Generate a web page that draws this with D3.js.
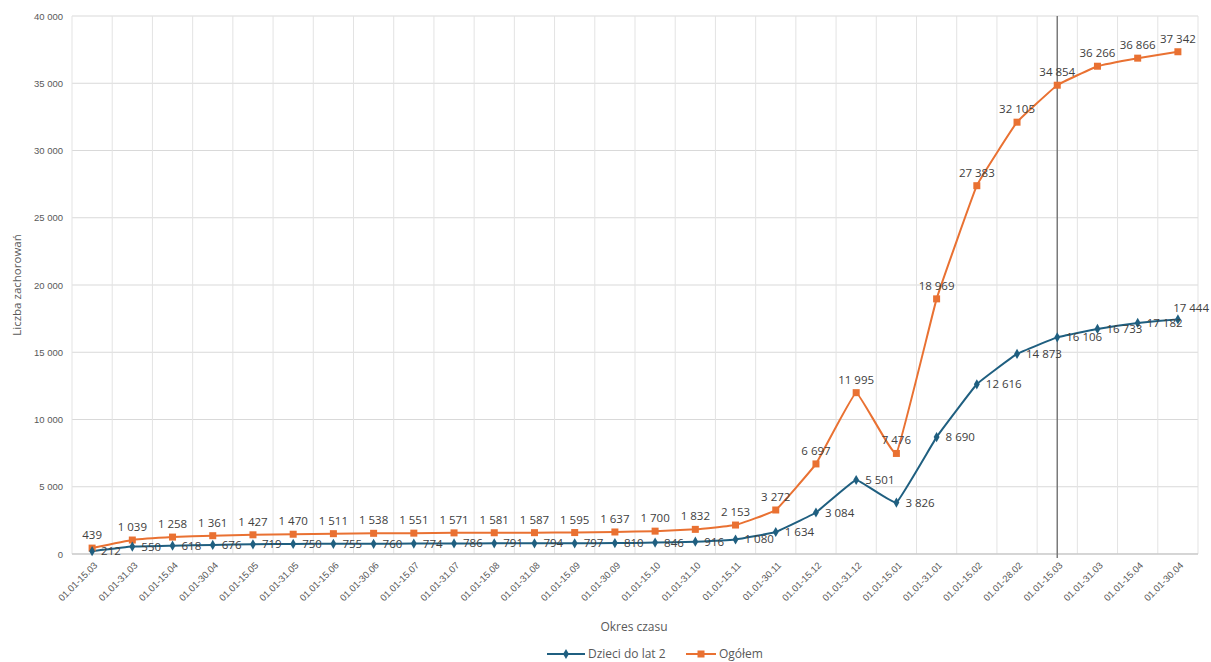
<!DOCTYPE html>
<html>
<head>
<meta charset="utf-8">
<script src="https://cdn.jsdelivr.net/npm/d3@7"></script>
<style>
  body { margin: 0; background: #fff; }
  svg { font-family: 'Open Sans', 'Noto Sans', sans-serif; }
</style>
</head>
<body>
<svg id="chart" width="1211" height="662"></svg>
<script>
// data ------------------------------------------------
const periods = [
  '01.01-15.03', '01.01-31.03', '01.01-15.04', '01.01-30.04', '01.01-15.05', '01.01-31.05',
  '01.01-15.06', '01.01-30.06', '01.01-15.07', '01.01-31.07', '01.01-15.08', '01.01-31.08',
  '01.01-15.09', '01.01-30.09', '01.01-15.10', '01.01-31.10', '01.01-15.11', '01.01-30.11',
  '01.01-15.12', '01.01-31.12', '01.01-15.01', '01.01-31.01', '01.01-15.02', '01.01-28.02',
  '01.01-15.03', '01.01-31.03', '01.01-15.04', '01.01-30.04'
];
const kids = [
  212, 550, 618, 676, 719, 750, 755, 760, 774, 786, 791, 794, 797, 810,
  846, 916, 1080, 1634, 3084, 5501, 3826, 8690, 12616, 14873, 16106, 16733, 17182, 17444
];
const total = [
  439, 1039, 1258, 1361, 1427, 1470, 1511, 1538, 1551, 1571, 1581, 1587, 1595, 1637,
  1700, 1832, 2153, 3272, 6697, 11995, 7476, 18969, 27383, 32105, 34854, 36266, 36866, 37342
];
const yTicks = [0, 5000, 10000, 15000, 20000, 25000, 30000, 35000, 40000];
const markerIndex = 24; // vertical reference line
const seriesNames = ['Dzieci do lat 2', 'Ogółem'];

const blue = '#1f5f80';
const orange = '#e97132';
const textCol = '#595959';

const pl = d3.formatLocale({ decimal: ',', thousands: '\u00a0', grouping: [3], currency: ['', ' zł'] });
const fmt = pl.format(',d');

const svg = d3.select('#chart');
const m = { left: 72, right: 1198, top: 16, bottom: 554 };

const x = d3.scaleBand().domain(d3.range(periods.length)).range([m.left, m.right]).paddingInner(0).paddingOuter(0);
const y = d3.scaleLinear().domain([0, 40000]).range([m.bottom, m.top]);
const cx = i => x(i) + x.bandwidth() / 2;

// grid
const grid = svg.append('g');
grid.selectAll('line.h').data(yTicks).join('line')
  .attr('x1', m.left).attr('x2', m.right)
  .attr('y1', d => y(d)).attr('y2', d => y(d))
  .attr('stroke', '#d9d9d9').attr('stroke-width', 1);
grid.selectAll('line.v').data(d3.range(periods.length + 1)).join('line')
  .attr('x1', d => m.left + d * x.bandwidth()).attr('x2', d => m.left + d * x.bandwidth())
  .attr('y1', m.top).attr('y2', m.bottom)
  .attr('stroke', '#e3e3e3').attr('stroke-width', 1);

// axes
const yAxis = d3.axisLeft(y).tickValues(yTicks).tickSize(0).tickPadding(9).tickFormat(fmt);
svg.append('g').attr('transform', 'translate(' + m.left + ',0)').call(yAxis)
  .call(g => g.select('.domain').remove())
  .selectAll('text').attr('fill', textCol).style('font-size', '9.5px');

svg.append('line').attr('x1', m.left).attr('x2', m.right).attr('y1', m.bottom).attr('y2', m.bottom)
  .attr('stroke', '#bfbfbf').attr('stroke-width', 1);

const xAxis = d3.axisBottom(x).tickSize(0).tickFormat(i => periods[i]);
svg.append('g').attr('transform', 'translate(0,' + m.bottom + ')').call(xAxis)
  .call(g => g.select('.domain').remove())
  .selectAll('text')
  .attr('fill', textCol).style('font-size', '9.5px')
  .attr('text-anchor', 'end')
  .attr('dy', null).attr('y', 0)
  .attr('transform', 'translate(6,12) rotate(-45)');

// reference line
svg.append('line')
  .attr('x1', cx(markerIndex)).attr('x2', cx(markerIndex))
  .attr('y1', m.top).attr('y2', m.bottom + 4)
  .attr('stroke', '#7a7a7a').attr('stroke-width', 1.5);

// titles
svg.append('text').attr('x', 634).attr('y', 631).attr('text-anchor', 'middle')
  .attr('fill', textCol).style('font-size', '12px').text('Okres czasu');
svg.append('text').attr('transform', 'translate(21,' + ((m.top + m.bottom) / 2) + ') rotate(-90)')
  .attr('text-anchor', 'middle').attr('fill', textCol).style('font-size', '11.5px').text('Liczba zachorowań');

// lines
const line = d3.line().x((d, i) => cx(i)).y(d => y(d)).curve(d3.curveCardinal.tension(0.75));
svg.append('path').datum(total).attr('d', line).attr('fill', 'none').attr('stroke', orange).attr('stroke-width', 2);
svg.append('path').datum(kids).attr('d', line).attr('fill', 'none').attr('stroke', blue).attr('stroke-width', 2);

const diamond = d3.symbol().type(d3.symbolDiamond).size(30);
svg.append('g').selectAll('rect').data(total).join('rect')
  .attr('x', (d, i) => cx(i) - 3.5).attr('y', d => y(d) - 3.5)
  .attr('width', 7).attr('height', 7).attr('fill', orange);
svg.append('g').selectAll('path').data(kids).join('path')
  .attr('d', diamond).attr('transform', (d, i) => 'translate(' + cx(i) + ',' + y(d) + ')')
  .attr('fill', blue);

// data labels
svg.append('g').selectAll('text').data(total).join('text')
  .attr('x', (d, i) => cx(i)).attr('y', d => y(d) - 9)
  .attr('text-anchor', 'middle').attr('fill', '#404040').style('font-size', '11.5px')
  .text(d => fmt(d));
svg.append('g').selectAll('text').data(kids).join('text')
  .attr('x', (d, i) => cx(i) + 9).attr('y', (d, i) => y(d) + (i === kids.length - 1 ? -7 : 4))
  .attr('text-anchor', 'start').attr('fill', '#404040').style('font-size', '11.5px')
  .text(d => fmt(d))
  .each(function() {
    // keep labels inside the picture
    const w = this.getComputedTextLength();
    const x0 = +this.getAttribute('x');
    if (x0 + w > 1209) this.setAttribute('x', 1209 - w);
  });

// legend
const lg = svg.append('g').attr('transform', 'translate(0,654)');
const items = [
  { name: seriesNames[0], color: blue, x0: 547, x1: 585, type: 'diamond' },
  { name: seriesNames[1], color: orange, x0: 686, x1: 716, type: 'square' }
];
items.forEach(it => {
  lg.append('line').attr('x1', it.x0).attr('x2', it.x1).attr('y1', 0).attr('y2', 0)
    .attr('stroke', it.color).attr('stroke-width', 2);
  const mx = (it.x0 + it.x1) / 2;
  if (it.type === 'diamond') {
    lg.append('path').attr('d', diamond).attr('transform', 'translate(' + mx + ',0)').attr('fill', it.color);
  } else {
    lg.append('rect').attr('x', mx - 3.5).attr('y', -3.5).attr('width', 7).attr('height', 7).attr('fill', it.color);
  }
  lg.append('text').attr('x', it.x1 + 3).attr('y', 4).attr('fill', textCol).style('font-size', '12px').text(it.name);
});
</script>
</body>
</html>
